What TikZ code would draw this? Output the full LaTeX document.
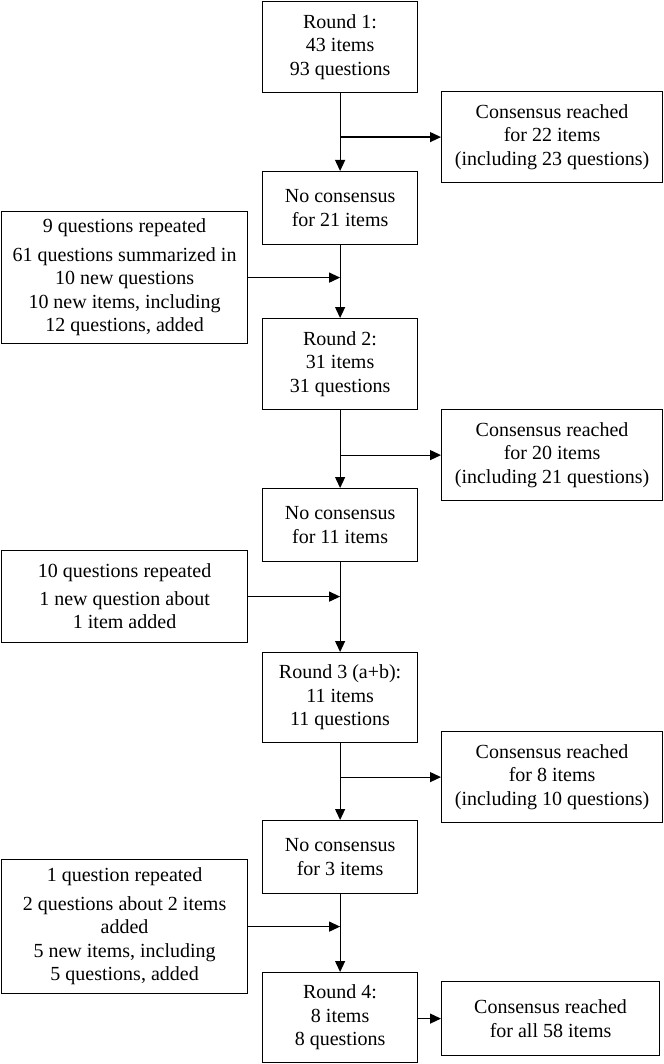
\documentclass[tikz,border=0pt]{standalone}
\usepackage{fontspec}
\setmainfont{Liberation Serif}
\usetikzlibrary{arrows.meta}
\begin{document}
\begin{tikzpicture}[x=1pt,y=-1pt,
  box/.style={draw, line width=1.2pt, inner sep=0pt, align=center, anchor=north west,
    font=\fontsize{20}{23.5}\selectfont},
  roundbox/.style={box, minimum width=155pt, minimum height=91pt},
  ncbox/.style={box, minimum width=155pt, minimum height=73pt},
  consbox/.style={box, minimum width=221pt, minimum height=91pt},
  leftbox/.style={box, minimum width=246pt},
  arr/.style={line width=1.2pt, -{Triangle[length=11pt,width=10pt]}}]
\useasboundingbox (0,0) rectangle (663,1064);
% main column
\node[roundbox] (r1) at (262,1) {Round 1:\\43 items\\93 questions};
\node[consbox] (c1) at (441,91) {Consensus reached\\for 22 items\\(including 23 questions)};
\node[ncbox] (nc1) at (262,171) {No consensus\\for 21 items};
\node[leftbox, minimum height=132pt] (l1) at (1,211) {9 questions repeated\\[5pt]61 questions summarized in\\10 new questions\\10 new items, including\\12 questions, added};
\node[roundbox] (r2) at (262,318) {Round 2:\\31 items\\31 questions};
\node[consbox] (c2) at (441,409) {Consensus reached\\for 20 items\\(including 21 questions)};
\node[ncbox] (nc2) at (262,488) {No consensus\\for 11 items};
\node[leftbox, minimum height=92pt] (l2) at (1,550) {10 questions repeated\\[4pt]1 new question about\\1 item added};
\node[roundbox, minimum height=90pt] (r3) at (262,652) {Round 3 (a+b):\\11 items\\11 questions};
\node[consbox] (c3) at (441,731) {Consensus reached\\for 8 items\\(including 10 questions)};
\node[ncbox] (nc3) at (262,820) {No consensus\\for 3 items};
\node[leftbox, minimum height=134pt] (l3) at (1,859) {1 question repeated\\[5pt]2 questions about 2 items\\added\\5 new items, including\\5 questions, added};
\node[roundbox, minimum height=90pt] (r4) at (262,972) {Round 4:\\8 items\\8 questions};
\node[box, minimum width=218pt, minimum height=74pt] (c4) at (441,981) {Consensus reached\\for all 58 items};
% connectors
\draw[arr] (r1.south) -- (nc1.north);
\draw[arr] (r1.south |- c1.west) -- (c1.west);
\draw[arr] (nc1.south) -- (r2.north);
\draw[arr] (l1.east) -- (l1.east -| nc1.south);
\draw[arr] (r2.south) -- (nc2.north);
\draw[arr] (r2.south |- c2.west) -- (c2.west);
\draw[arr] (nc2.south) -- (r3.north);
\draw[arr] (l2.east) -- (l2.east -| nc2.south);
\draw[arr] (r3.south) -- (nc3.north);
\draw[arr] (r3.south |- c3.west) -- (c3.west);
\draw[arr] (nc3.south) -- (r4.north);
\draw[arr] (l3.east) -- (l3.east -| nc3.south);
\draw[arr] (r4.east |- c4.west) -- (c4.west);
\end{tikzpicture}
\end{document}
